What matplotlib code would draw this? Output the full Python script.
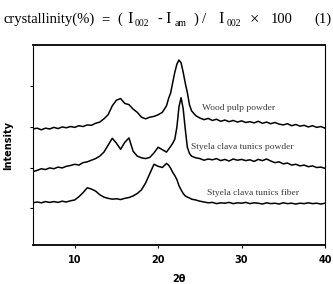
import matplotlib
matplotlib.use("Agg")
from matplotlib import pyplot as plt

# 2-theta positions (deg), denser around the sharp 002 peak
two_theta = [5.0, 5.5, 6.0, 6.5, 7.0, 7.5, 8.0, 8.5, 9.0, 9.5,
             10.0, 10.5, 11.0, 11.5, 12.0, 12.5, 13.0, 13.5, 14.0, 14.5,
             15.0, 15.5, 16.0, 16.5, 17.0, 17.5, 18.0, 18.5, 19.0, 19.5,
             20.0, 20.5, 21.0, 21.25, 21.5, 21.75, 22.0, 22.25, 22.5, 22.75,
             23.0, 23.25, 23.5, 23.75, 24.0, 24.5, 25.0, 25.5, 26.0, 26.5,
             27.0, 27.5, 28.0, 28.5, 29.0, 29.5, 30.0, 30.5, 31.0, 31.5,
             32.0, 32.5, 33.0, 33.5, 34.0, 34.5, 35.0, 35.5, 36.0, 36.5,
             37.0, 37.5, 38.0, 38.5, 39.0, 39.5, 40.0]

wood_pulp = [2.95, 2.97, 2.93, 2.97, 2.95, 2.99, 2.96, 3.00, 2.98, 3.01,
             2.99, 3.03, 3.01, 3.05, 3.04, 3.09, 3.12, 3.20, 3.30, 3.52,
             3.66, 3.70, 3.58, 3.55, 3.44, 3.36, 3.24, 3.20, 3.24, 3.26,
             3.30, 3.36, 3.52, 3.70, 3.84, 4.10, 4.35, 4.55, 4.65, 4.58,
             4.35, 4.08, 3.85, 3.55, 3.40, 3.28, 3.22, 3.18, 3.21, 3.16,
             3.19, 3.14, 3.17, 3.13, 3.16, 3.12, 3.15, 3.11, 3.13, 3.10,
             3.14, 3.09, 3.12, 3.08, 3.11, 3.07, 3.05, 3.08, 3.03, 3.06,
             3.02, 3.04, 3.00, 3.03, 2.99, 3.01, 2.97]

tunic_powder = [1.90, 1.93, 1.97, 1.95, 1.99, 1.97, 2.01, 1.99, 2.03, 2.05,
                2.08, 2.06, 2.12, 2.14, 2.18, 2.22, 2.28, 2.38, 2.55, 2.72,
                2.60, 2.45, 2.62, 2.73, 2.40, 2.28, 2.24, 2.22, 2.25, 2.36,
                2.50, 2.44, 2.38, 2.45, 2.52, 2.60, 2.70, 3.00, 3.50, 3.72,
                3.45, 2.95, 2.50, 2.35, 2.28, 2.24, 2.22, 2.18, 2.21, 2.19,
                2.22, 2.17, 2.20, 2.16, 2.21, 2.18, 2.20, 2.17, 2.19, 2.15,
                2.20, 2.17, 2.21, 2.16, 2.12, 2.14, 2.09, 2.11, 2.06, 2.08,
                2.04, 2.06, 2.02, 2.04, 2.00, 2.01, 1.98]

tunic_fiber = [1.13, 1.15, 1.13, 1.16, 1.14, 1.16, 1.14, 1.17, 1.15, 1.18,
               1.20, 1.28, 1.38, 1.50, 1.47, 1.42, 1.33, 1.27, 1.24, 1.22,
               1.23, 1.21, 1.24, 1.26, 1.30, 1.36, 1.45, 1.62, 1.85, 2.08,
               2.03, 2.00, 2.10, 2.06, 1.98, 1.88, 1.80, 1.70, 1.55, 1.45,
               1.36, 1.30, 1.27, 1.25, 1.22, 1.20, 1.17, 1.15, 1.13, 1.14,
               1.11, 1.13, 1.12, 1.14, 1.11, 1.13, 1.12, 1.14, 1.11, 1.13,
               1.12, 1.10, 1.13, 1.11, 1.12, 1.10, 1.13, 1.11, 1.12, 1.10,
               1.12, 1.11, 1.13, 1.11, 1.12, 1.10, 1.12]

series_labels = ["Wood pulp powder", "Styela clava tunics powder", "Styela clava tunics fiber"]
x_ticks = [10, 20, 30, 40]

W, H = 333, 284
fig = plt.figure(figsize=(W / 100, H / 100), dpi=100)
ax = fig.add_axes([33 / W, 1 - 245 / H, 292 / W, 200 / H])

for ys in (wood_pulp, tunic_powder, tunic_fiber):
    ax.plot(two_theta, ys, color="black", lw=1.1)

# curve labels
lbl = dict(fontsize=6.8, family="Liberation Serif", color="#3a3a3a", va="center")
ax.text(25.26, 3.47, series_labels[0], **lbl)
ax.text(23.94, 2.51, series_labels[1], **lbl)
ax.text(25.86, 1.37, series_labels[2], **lbl)

ax.set_xlim(5, 40)
ax.set_ylim(0.09, 5.02)
ax.set_xticks(x_ticks)
ax.set_xticklabels([str(t) for t in x_ticks], fontsize=7, fontweight="bold")
ax.set_yticks([1, 2, 3, 4])
ax.set_yticklabels([])
ax.tick_params(length=2.5, width=0.8)
ax.tick_params(axis="x", pad=5)
ax.set_xlabel("2θ", fontsize=7, fontweight="bold", labelpad=6)
ax.set_ylabel("Intensity", fontsize=7, fontweight="bold", labelpad=8)
for side in ("top", "bottom"):
    ax.spines[side].set_linewidth(1.3)
for side in ("left", "right"):
    ax.spines[side].set_linewidth(0.8)

# equation above the chart, laid out piece by piece (wide spacing as in the source)
def put(px, s, size=10.5, drop=0):
    fig.text(px / W, 1 - (23 + drop) / H, s, fontsize=size, family="Liberation Serif", va="baseline")

put(4, "crystallinity(%)")
put(101, "=")
put(117, "(")
put(127, "I", size=12)
put(135, "002", size=7, drop=3)
put(158, "-")
put(165, "I", size=12)
put(175, "am", size=7, drop=3)
put(193, ")")
put(202, "/")
put(218, "I", size=12)
put(227, "002", size=7, drop=3)
put(250, "×", size=12)
put(271, "100")
put(314, "(1)")

fig.savefig("out.png", dpi=100)
